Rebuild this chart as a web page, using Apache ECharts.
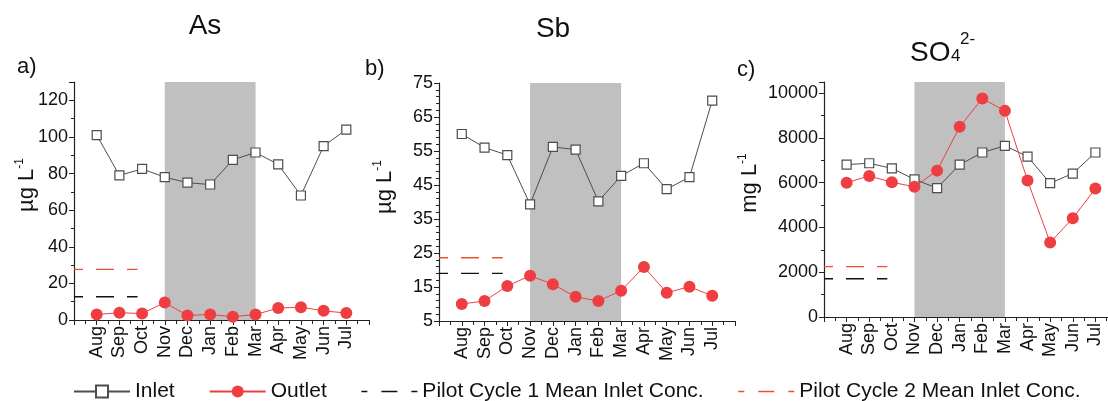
<!DOCTYPE html>
<html>
<head>
<meta charset="utf-8">
<script src="https://cdn.jsdelivr.net/npm/echarts@6/dist/echarts.min.js"></script>
<style>
  html, body { margin: 0; padding: 0; background: #fff; }
  #main { width: 1108px; height: 401px; }
</style>
</head>
<body>
<div id="main"></div>
<script>
// months along the x axis (Aug .. Jul)
var months = ['Aug', 'Sep', 'Oct', 'Nov', 'Dec', 'Jan', 'Feb', 'Mar', 'Apr', 'May', 'Jun', 'Jul'];

// a) As, ug/L
var asInlet = [101, 79, 82.5, 78, 75, 74, 87.5, 91.5, 85, 68, 95, 104];
var asOutlet = [3, 4, 3.5, 9.5, 2.5, 3, 1.8, 3, 6.5, 7, 5, 3.8];
// b) Sb, ug/L
var sbInlet = [60, 56, 53.8, 39.3, 56.2, 55.4, 40.2, 47.7, 51.4, 43.8, 47.3, 69.8];
var sbOutlet = [10, 10.9, 15.3, 18.3, 15.8, 12.1, 10.9, 13.9, 20.9, 13.3, 15.1, 12.4];
// c) SO4, mg/L
var so4Inlet = [6810, 6870, 6640, 6150, 5760, 6810, 7350, 7650, 7170, 5980, 6410, 7350];
var so4Outlet = [6000, 6300, 6020, 5820, 6540, 8500, 9760, 9210, 6100, 3330, 4410, 5740];

// pilot means per panel (As, Sb, SO4)
var cycle1Mean = [12.7, 19, 1710];
var cycle2Mean = [27.6, 23.6, 2250];

// shaded months (Nov .. Mar)
var shadeFrom = 'Nov', shadeTo = 'Mar';

var FONT = 'Liberation Sans, Arial, sans-serif';
var RED = '#ef3e42';
var GREY = '#4d4d4d';
var MEAN_END = 2.8;   // dashed mean lines stop just before Oct

var panels = [
  { inlet: asInlet, outlet: asOutlet, min: 0, max: 130, interval: 20, minor: 2, showMax: false,
    grid: { left: 74, top: 82, width: 295, height: 238 } },
  { inlet: sbInlet, outlet: sbOutlet, min: 5, max: 75, interval: 10, minor: 5, showMax: true,
    grid: { left: 439, top: 83, width: 296, height: 238 } },
  { inlet: so4Inlet, outlet: so4Outlet, min: 0, max: 10500, interval: 2000, minor: 2, showMax: false,
    grid: { left: 824, top: 82, width: 294, height: 235 } }
];

function pts(arr) {
  return arr.map(function (v, i) { return [i + 1, v]; });
}

var grids = [], xAxes = [], yAxes = [], series = [];
panels.forEach(function (p, k) {
  var g = p.grid;
  grids.push({ left: g.left, top: g.top, width: g.width, height: g.height,
    containLabel: false, outerBoundsMode: 'none' });
  xAxes.push({
    gridIndex: k, type: 'value', min: 0, max: 13, interval: 1,
    splitLine: { show: false },
    axisLine: { lineStyle: { color: '#222', width: 1.2 } },
    axisTick: { inside: false, length: 5, lineStyle: { color: '#222' } },
    minorTick: { show: true, splitNumber: 2, length: 4, lineStyle: { color: '#222' } },
    axisLabel: {
      rotate: 90, margin: 6, color: '#111', fontFamily: FONT, fontSize: 18,
      showMinLabel: true, showMaxLabel: true,
      formatter: function (v) { return months[v - 1] || ''; }
    }
  });
  yAxes.push({
    gridIndex: k, type: 'value', min: p.min, max: p.max, interval: p.interval,
    splitLine: { show: false },
    axisLine: { show: true, lineStyle: { color: '#222', width: 1.2 } },
    axisTick: { show: true, length: 5, lineStyle: { color: '#222' } },
    minorTick: { show: true, splitNumber: p.minor, length: 3, lineStyle: { color: '#222' } },
    axisLabel: {
      color: '#111', fontFamily: FONT, fontSize: 18, margin: 6, showMaxLabel: p.showMax,
      formatter: function (v) { return String(v); }
    }
  });
  series.push({
    name: 'Inlet', type: 'line', xAxisIndex: k, yAxisIndex: k,
    data: pts(p.inlet), symbol: 'rect', symbolSize: 9,
    lineStyle: { color: GREY, width: 1 },
    itemStyle: { color: '#fff', borderColor: GREY, borderWidth: 1.2 },
    markArea: {
      silent: true,
      itemStyle: { color: '#c0c0c0', opacity: 1 },
      data: [[
        { xAxis: months.indexOf(shadeFrom) + 1, yAxis: p.min },
        { xAxis: months.indexOf(shadeTo) + 1, yAxis: p.max }
      ]]
    },
    z: 3
  });
  series.push({
    name: 'Outlet', type: 'line', xAxisIndex: k, yAxisIndex: k,
    data: pts(p.outlet), symbol: 'circle', symbolSize: 12,
    lineStyle: { color: RED, width: 1 },
    itemStyle: { color: RED },
    z: 4
  });
  series.push({
    name: 'Pilot Cycle 1 Mean Inlet Conc.', type: 'line', xAxisIndex: k, yAxisIndex: k,
    data: [[0, cycle1Mean[k]], [MEAN_END, cycle1Mean[k]]], symbol: 'none',
    lineStyle: { color: '#111', width: 1.3, type: [18, 13], dashOffset: 9 },
    itemStyle: { color: '#111' },
    z: 3
  });
  series.push({
    name: 'Pilot Cycle 2 Mean Inlet Conc.', type: 'line', xAxisIndex: k, yAxisIndex: k,
    data: [[0, cycle2Mean[k]], [MEAN_END, cycle2Mean[k]]], symbol: 'none',
    lineStyle: { color: '#f05030', width: 1.3, type: [18, 13], dashOffset: 9 },
    itemStyle: { color: '#f05030' },
    z: 3
  });
});

function txt(x, y, s, size, extra) {
  var o = { type: 'text', x: x, y: y, silent: true,
    style: { text: s, fill: '#111', font: size + 'px ' + FONT, align: 'left', verticalAlign: 'alphabetic' } };
  if (extra) { for (var key in extra) o.style[key] = extra[key]; }
  return o;
}

function yName(x, y, unit) {
  return {
    type: 'text', x: x, y: y, rotation: Math.PI / 2, silent: true,
    style: {
      text: '{u|' + unit + '}{s|-1}', align: 'center', verticalAlign: 'middle',
      rich: {
        u: { fontFamily: FONT, fontSize: 22, fill: '#111', lineHeight: 24, verticalAlign: 'bottom' },
        s: { fontFamily: FONT, fontSize: 12, fill: '#111', lineHeight: 12, verticalAlign: 'top' }
      }
    }
  };
}

var graphics = [
  txt(205, 26, 'As', 28, { align: 'center', verticalAlign: 'middle' }),
  txt(553, 29, 'Sb', 28, { align: 'center', verticalAlign: 'middle' }),
  txt(910, 39, 'SO', 28),
  txt(951, 48, '4', 17),
  txt(960, 31, '2-', 17),
  txt(17, 67, 'a)', 22, { verticalAlign: 'middle' }),
  txt(365, 69, 'b)', 22, { verticalAlign: 'middle' }),
  txt(737, 70, 'c)', 22, { verticalAlign: 'middle' }),
  yName(26, 185, 'µg L'),
  yName(384, 187, 'µg L'),
  yName(749, 183, 'mg L')
];

// legend dash: short - long - short
var legendDash = { type: [16, 14], dashOffset: 10, width: 1.3 };

var chart = echarts.init(document.getElementById('main'), null, { renderer: 'canvas' });
chart.setOption({
  backgroundColor: '#fff',
  animation: false,
  grid: grids,
  xAxis: xAxes,
  yAxis: yAxes,
  series: series,
  graphic: graphics,
  legend: {
    left: 68, top: 376, itemWidth: 56, itemHeight: 15, itemGap: 34,
    textStyle: { fontFamily: FONT, fontSize: 21, color: '#111' },
    data: [
      'Inlet',
      'Outlet',
      { name: 'Pilot Cycle 1 Mean Inlet Conc.', itemStyle: { opacity: 0 }, lineStyle: legendDash },
      { name: 'Pilot Cycle 2 Mean Inlet Conc.', itemStyle: { opacity: 0 }, lineStyle: legendDash }
    ]
  }
});
</script>
</body>
</html>
